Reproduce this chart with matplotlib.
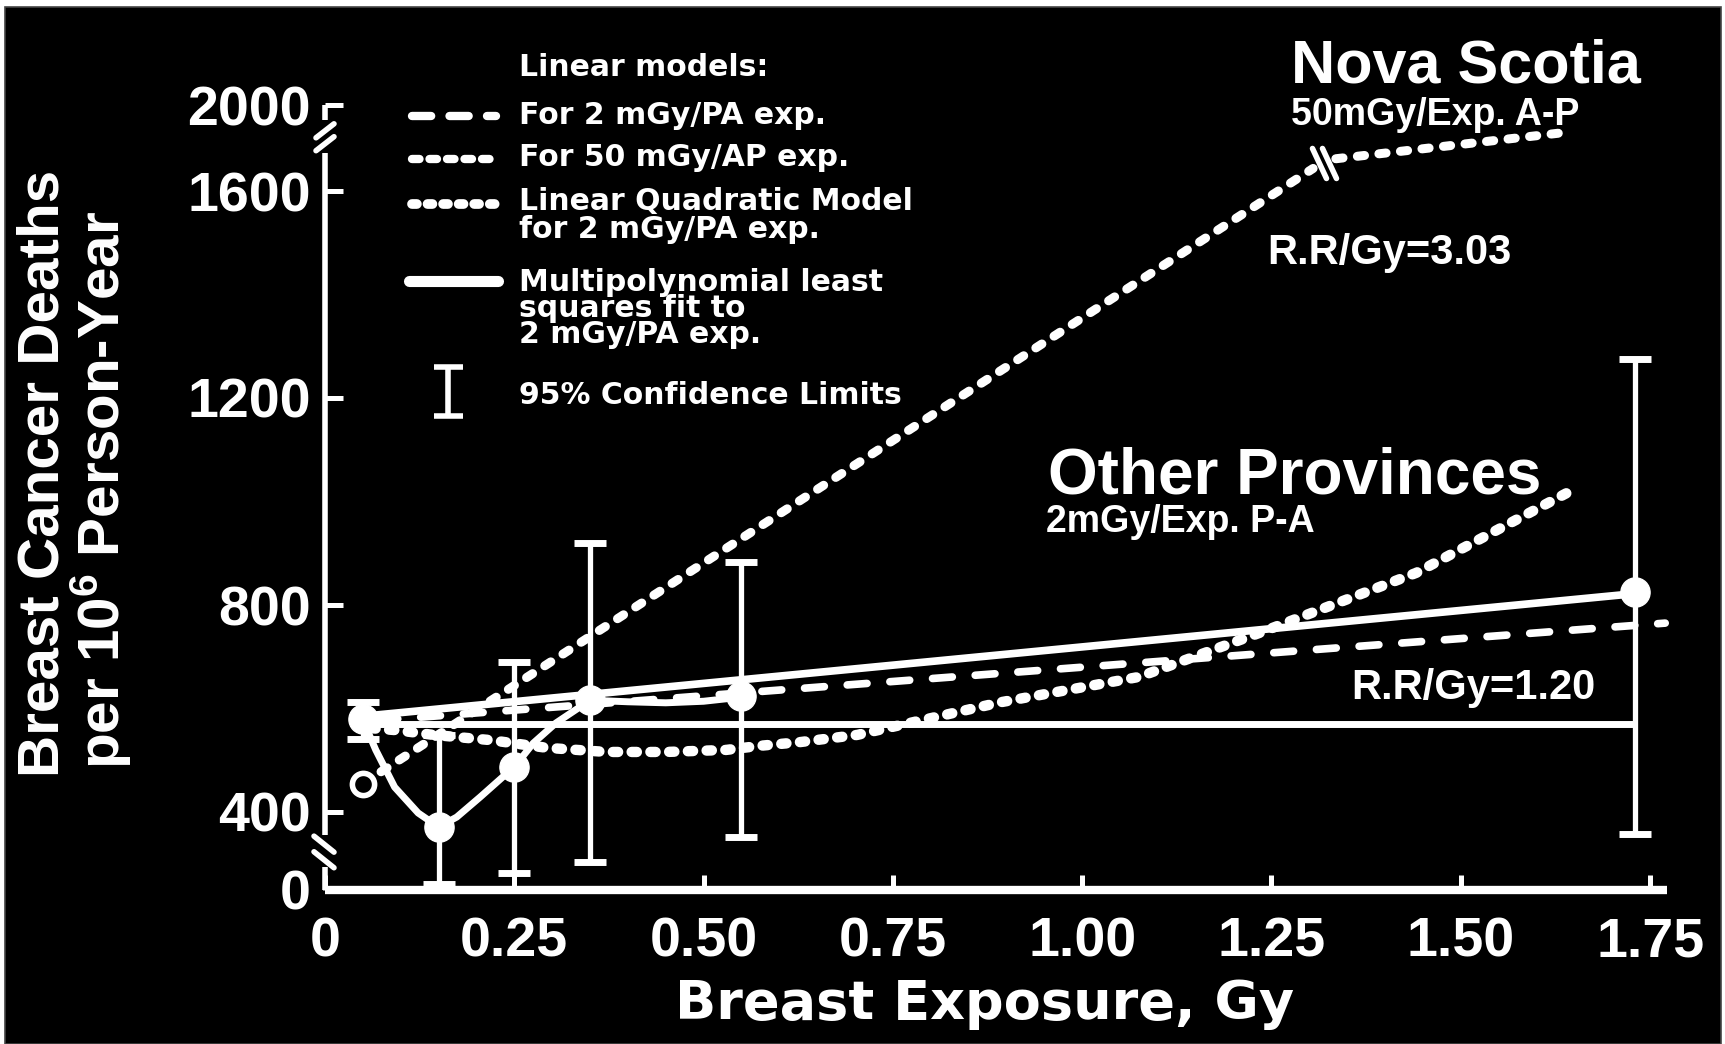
import numpy as np
import matplotlib
matplotlib.use('Agg')
from matplotlib import pyplot as plt
from matplotlib.lines import Line2D
from matplotlib.patches import Rectangle

plt.rcParams['font.family'] = ['Liberation Sans', 'DejaVu Sans']
plt.rcParams['font.weight'] = 'bold'
plt.rcParams['mathtext.fontset'] = 'custom'
plt.rcParams['mathtext.rm'] = 'Liberation Sans:bold'
plt.rcParams['mathtext.it'] = 'Liberation Sans:bold'
plt.rcParams['mathtext.bf'] = 'Liberation Sans:bold'

W, H = 1725, 1044

# observed rates with 95% confidence limits
dose_pts = [0.05, 0.15, 0.25, 0.35, 0.55, 1.73]
rate_pts = [580, 323, 487, 616, 624, 825]
ci_low = [541, 30, 87, 144, 272, 285]
ci_high = [613, 548, 690, 920, 883, 1275]

# Nova Scotia linear model (50 mGy/AP), continues past the axis break
ns_dose = [0.05, 1.305]
ns_rate = [455, 1705]
ns_tail_dose = [1.335, 1.632]
ns_tail_rate = [1750, 1870]

# other provinces linear model (2 mGy/PA)
op_dose = [0.07, 1.77]
op_rate = [577, 765]

# linear quadratic model, 2 mGy/PA
lq_dose = [0.06, 0.095, 0.143, 0.218, 0.293, 0.372, 0.45, 0.53, 0.575, 0.627,
           0.703, 0.892, 1.075, 1.234, 1.441, 1.655]
lq_rate = [562, 558, 549, 539, 524, 516, 516, 520, 528, 535,
           549, 612, 661, 746, 862, 1028]

# multipolynomial least squares fit
fit_dose = [0.05, 0.067, 0.092, 0.123, 0.15, 0.174, 0.205, 0.235, 0.25, 0.275,
            0.305, 0.35, 0.40, 0.45, 0.50, 0.55]
fit_rate = [578, 520, 448, 395, 323, 374, 429, 468, 487, 533,
            572, 616, 613, 611, 614, 622]
trend_dose = [0.05, 1.73]
trend_rate = [585, 822]

# zero-dose reference level
base_dose = [0.065, 1.73]
base_rate = [570, 570]

x_ticks = [0, 0.25, 0.50, 0.75, 1.00, 1.25, 1.50, 1.75]
x_tick_labels = ['0', '0.25', '0.50', '0.75', '1.00', '1.25', '1.50', '1.75']
y_ticks = [0, 400, 800, 1200, 1600, 2000]

# broken y axis: squeezed below 400 and above 1600
y_knots = [-400, 0, 400, 1600, 2000, 2400]
y_pos = [-78, 0, 78, 699, 785, 871]


def fwd(v):
    return np.interp(v, y_knots, y_pos)


def inv(p):
    return np.interp(p, y_pos, y_knots)


def fpx(x, y):
    # figure pixel (from top-left) -> figure fraction
    return x / W, 1 - y / H


def fig_line(fig, xs, ys, **kw):
    fx = [x / W for x in xs]
    fy = [1 - y / H for y in ys]
    fig.add_artist(Line2D(fx, fy, transform=fig.transFigure, color='white', zorder=3, **kw))


fig = plt.figure(figsize=(W / 100, H / 100), dpi=100)
fig.patch.set_facecolor('white')
fig.add_artist(Rectangle((5 / W, 0), (1721 - 5) / W, 1 - 7 / H, transform=fig.transFigure,
                         facecolor='black', edgecolor='#444444', lw=1.2, zorder=-10))

ax = fig.add_axes([325 / W, 1 - 890 / H, (1669 - 325) / W, (890 - 105) / H])
ax.set_facecolor('none')
ax.set_yscale('function', functions=(fwd, inv))
ax.set_xlim(0, 1.775)
ax.set_ylim(0, 2000)
for s in ax.spines.values():
    s.set_visible(False)

ax.set_xticks(x_ticks)
ax.set_xticklabels(x_tick_labels)
ax.set_yticks(y_ticks)
ax.set_yticklabels([str(v) for v in y_ticks])
ax.minorticks_off()
ax.tick_params(axis='y', direction='in', length=13, width=3.6, colors='white',
               labelsize=40, pad=10)
ax.tick_params(axis='x', direction='in', length=11, width=3.6, colors='white',
               labelsize=40, pad=19)

# axis lines with breaks
ax.plot([0, 1.772], [0, 0], color='white', lw=6, clip_on=False, solid_capstyle='butt')
for y0, y1 in [(0, 118), (282, 1777), (1930, 2000)]:
    ax.plot([0, 0], [y0, y1], color='white', lw=4, clip_on=False, solid_capstyle='butt')

fig.canvas.draw()


def to_px(x, y):
    px, py = ax.transData.transform((x, y))
    return px, H - py


# break marks on the y axis
for yb in [230, 150]:
    cx, cy = to_px(0, yb)
    fig_line(fig, [cx - 11, cx + 9], [cy - 9, cy + 7], lw=4, solid_capstyle='round')
for yb in [1820, 1880]:
    cx, cy = to_px(0, yb)
    fig_line(fig, [cx - 9, cx + 9], [cy + 7, cy - 7], lw=4, solid_capstyle='round')
# break mark on the Nova Scotia line
bx, by = to_px(1.32, 1728)
for off in (-5, 5):
    fig_line(fig, [bx + off - 7, bx + off + 7], [by - 15, by + 15], lw=4,
             solid_capstyle='round')

# data lines
ax.plot(base_dose, base_rate, color='white', lw=5, solid_capstyle='butt', clip_on=False)
ax.plot(trend_dose, trend_rate, color='white', lw=5.5, clip_on=False)
ax.plot(fit_dose, fit_rate, color='white', lw=5, solid_joinstyle='round', clip_on=False)
ax.plot(op_dose, op_rate, color='white', lw=5.5, dashes=(2.6, 3.0),
        dash_capstyle='round', clip_on=False)
ax.plot(ns_dose, ns_rate, color='white', lw=6.5, dashes=(0.8, 1.6),
        dash_capstyle='round', clip_on=False)
ax.plot(ns_tail_dose, ns_tail_rate, color='white', lw=6.5, dashes=(0.8, 1.6),
        dash_capstyle='round', clip_on=False)
ax.plot(lq_dose, lq_rate, color='white', lw=7.5, dashes=(0.5, 1.3),
        dash_capstyle='round', clip_on=False)

yerr = [np.array(rate_pts) - np.array(ci_low), np.array(ci_high) - np.array(rate_pts)]
ax.errorbar(dose_pts, rate_pts, yerr=yerr, fmt='o', ms=21, color='white', ecolor='white',
            elinewidth=3.8, capsize=11.5, capthick=5, clip_on=False, zorder=5)
ax.plot([ns_dose[0]], [ns_rate[0]], 'o', ms=16, mfc='black', mec='white', mew=4,
        zorder=6, clip_on=False)

# legend drawn as text and sample strokes
lx = 519
leg = dict(color='white', fontsize=21.5, va='center', family='DejaVu Sans')
fig.text(*fpx(lx, 68), 'Linear models:', **leg)
fig.text(*fpx(lx, 115), 'For 2 mGy/PA exp.', **leg)
fig.text(*fpx(lx, 157), 'For 50 mGy/AP exp.', **leg)
fig.text(*fpx(lx, 202), 'Linear Quadratic Model', **leg)
fig.text(*fpx(lx, 230), 'for 2 mGy/PA exp.', **leg)
fig.text(*fpx(lx, 282), 'Multipolynomial least', **leg)
fig.text(*fpx(lx, 309), 'squares fit to', **leg)
fig.text(*fpx(lx, 335), '2 mGy/PA exp.', **leg)
fig.text(*fpx(lx, 396), '95% Confidence Limits', **leg)

fig_line(fig, [412, 496], [116, 116], lw=6, dashes=(2.3, 2.2), dash_capstyle='round')
fig_line(fig, [412, 496], [159, 159], lw=6, dashes=(0.9, 1.2), dash_capstyle='round')
fig_line(fig, [412, 496], [204, 204], lw=7, dashes=(0.5, 1.1), dash_capstyle='round')
fig_line(fig, [409, 498], [281, 281], lw=8, solid_capstyle='round')
fig_line(fig, [448, 448], [367, 416], lw=4, solid_capstyle='butt')
fig_line(fig, [434, 463], [367, 367], lw=4, solid_capstyle='butt')
fig_line(fig, [434, 463], [416, 416], lw=4, solid_capstyle='butt')

# annotations
fig.text(*fpx(1291, 67), 'Nova Scotia', color='white', fontsize=44, va='center')
fig.text(*fpx(1291, 115), '50mGy/Exp. A-P', color='white', fontsize=27, va='center')
fig.text(*fpx(1267, 253), 'R.R/Gy=3.03', color='white', fontsize=30, va='center')
fig.text(*fpx(1048, 476), 'Other Provinces', color='white', fontsize=46, va='center')
fig.text(*fpx(1046, 522), '2mGy/Exp. P-A', color='white', fontsize=27, va='center')
fig.text(*fpx(1351, 688), 'R.R/Gy=1.20', color='white', fontsize=30, va='center')

# axis titles
fig.text(*fpx(985, 1004), 'Breast Exposure, Gy', color='white', fontsize=39,
         ha='center', va='center', family='DejaVu Sans')
fig.text(*fpx(44, 473), 'Breast Cancer Deaths', color='white', fontsize=42,
         rotation=90, ha='center', va='center')
fig.text(*fpx(101, 490), 'per 10$^{6}$ Person-Year', color='white', fontsize=42,
         rotation=90, ha='center', va='center')

fig.savefig('out.png', dpi=100, facecolor=fig.get_facecolor())
